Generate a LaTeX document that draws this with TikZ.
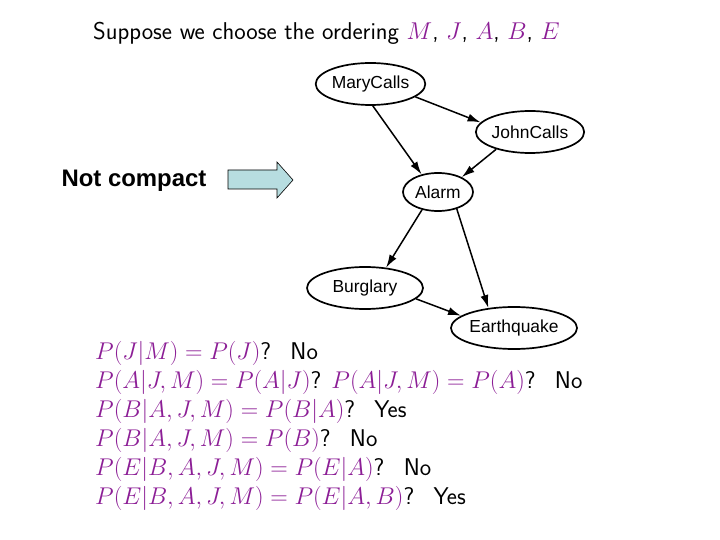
\RequirePackage{fix-cm}
\documentclass[tikz,border=0pt]{standalone}
\usepackage{fontspec}
\newfontfamily\arialfont{Liberation Sans}
\usetikzlibrary{arrows.meta, positioning, shapes.geometric}

\definecolor{alertpurple}{RGB}{140,30,150}
\definecolor{arrowfill}{RGB}{183,221,224}
\newcommand{\al}[1]{\textcolor{alertpurple}{#1}}
\newcommand{\ans}[1]{\hspace{0.8em}#1}

\begin{document}
\begin{tikzpicture}[
    x=1bp, y=-1bp,
    var/.style={ellipse, draw, line width=1.7bp, inner sep=0pt, minimum height=42bp,
      font=\arialfont\fontsize{17.5}{19}\selectfont},
    edge/.style={-{Latex[length=13bp, width=8bp]}, line width=1.5bp},
    eqline/.style={anchor=base west, inner sep=0pt, font=\sffamily\fontsize{24.3}{28}\selectfont},
]
\useasboundingbox[fill=white] (0,0) rectangle (720,540);

% Title
\node[anchor=base west, inner sep=0pt, font=\sffamily\fontsize{24.4}{28}\selectfont] (title) at (93,40)
  {Suppose we choose the ordering \al{$M$}, \al{$J$}, \al{$A$}, \al{$B$}, \al{$E$}};

% Network
\node[var, minimum width=107bp] (mary) at (370.5,84) {MaryCalls};
\node[var, minimum width=104bp] (john) at (530,132) {JohnCalls};
\node[var, minimum width=70bp, minimum height=38bp] (alarm) at (438,192) {Alarm};
\node[var, minimum width=116bp] (burglary) at (365,288) {Burglary};
\node[var, minimum width=116bp] (quake) at (514,328) {Earthquake};

\draw[edge] (mary.-84) -- (alarm.133);
\draw[edge] (mary.-16) -- (john.169);
\draw[edge] (john.207) -- (alarm.32);
\draw[edge] (alarm.228) -- (burglary.44);
\draw[edge] (alarm.-42) -- (quake.142);
\draw[edge] (burglary.-12) -- (quake.167);

% Block arrow
\node[inner sep=0pt, font=\arialfont\bfseries\fontsize{24}{28}\selectfont] (label) at (134,181) {Not compact};
\draw[fill=arrowfill, line width=0.6bp] (228,170) -- (277,170) -- (277,162) -- (293,180)
  -- (277,198) -- (277,189) -- (228,189) -- cycle;

% Tests
\node[eqline] (q1) at (95,359) {\al{$P(J|M)=P(J)$}?\ans{No}};
\node[eqline] (q2) at (95,388) {\al{$P(A|J,M)=P(A|J)$}? \al{$P(A|J,M)=P(A)$}?\ans{No}};
\node[eqline] (q3) at (95,417) {\al{$P(B|A,J,M)=P(B|A)$}?\ans{Yes}};
\node[eqline] (q4) at (95,446) {\al{$P(B|A,J,M)=P(B)$}?\ans{No}};
\node[eqline] (q5) at (95,475) {\al{$P(E|B,A,J,M)=P(E|A)$}?\ans{No}};
\node[eqline] (q6) at (95,504) {\al{$P(E|B,A,J,M)=P(E|A,B)$}?\ans{Yes}};

\end{tikzpicture}
\end{document}
